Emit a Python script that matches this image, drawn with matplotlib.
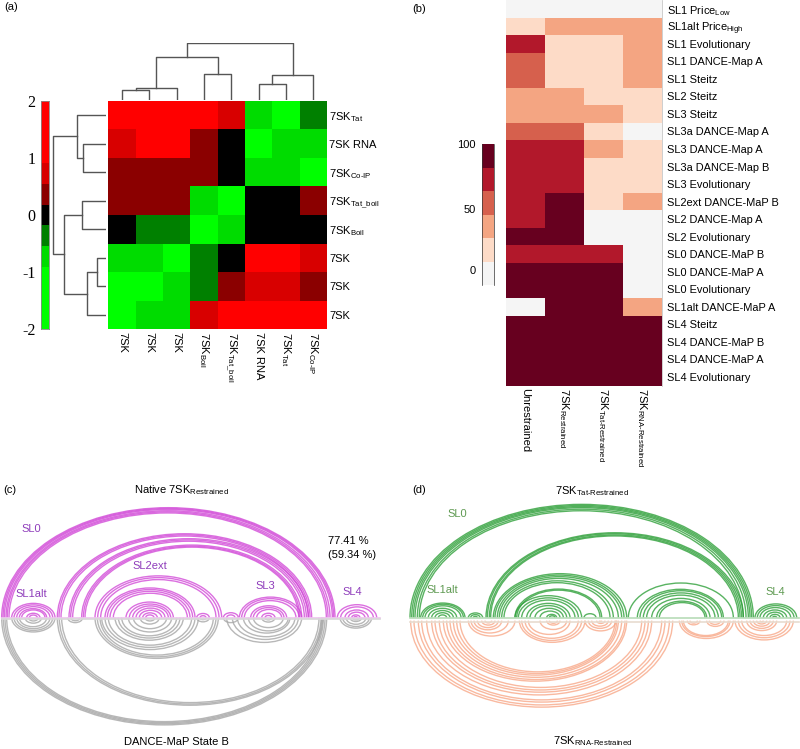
import matplotlib
matplotlib.use("Agg")
import numpy as np
import matplotlib.pyplot as plt
from matplotlib.colors import ListedColormap, BoundaryNorm
from matplotlib.patches import Arc

W, H = 800, 749
plt.rcParams['font.family'] = ['Liberation Sans', 'DejaVu Sans']
plt.rcParams['mathtext.fontset'] = 'custom'
plt.rcParams['mathtext.rm'] = 'Liberation Sans'
plt.rcParams['mathtext.default'] = 'rm'

# (a) heatmap
a_rows = ['7SK$_{Tat}$', '7SK RNA', '7SK$_{\\text{Co-IP}}$', '7SK$_{Tat\\_boil}$',
          '7SK$_{Boil}$', '7SK', '7SK', '7SK']
a_cols = ['7SK', '7SK', '7SK', '7SK$_{Boil}$', '7SK$_{Tat\\_boil}$', '7SK RNA',
          '7SK$_{Tat}$', '7SK$_{\\text{Co-IP}}$']
a_vals = [[1.6, 1.6, 1.6, 1.6, 0.9, -0.9, -1.6, -0.5],
          [0.9, 1.6, 1.6, 0.5, 0.0, -1.6, -0.9, -0.9],
          [0.5, 0.5, 0.5, 0.5, 0.0, -0.9, -0.9, -1.6],
          [0.5, 0.5, 0.5, -0.9, -1.6, 0.0, 0.0, 0.5],
          [0.0, -0.5, -0.5, -1.6, -0.9, 0.0, 0.0, 0.0],
          [-0.9, -0.9, -1.6, -0.5, 0.0, 1.6, 1.6, 0.9],
          [-1.6, -1.6, -0.9, -0.5, 0.5, 0.9, 0.9, 0.5],
          [-1.6, -0.9, -0.9, 0.9, 1.6, 1.6, 1.6, 1.6]]
a_colors = ['#00ff00', '#00ff00', '#00ff00', '#00dc00', '#008000', '#000000',
            '#8b0000', '#d80000', '#ff0000', '#ff0000', '#ff0000']
a_ticks = [2, 1, 0, -1, -2]
# merges: (pos1, pos2, height)
a_top_tree = [(0.5, 1.5, 30), (1.0, 2.5, 36), (3.5, 4.5, 78), (1.75, 4.0, 128),
              (5.5, 6.5, 47), (6.0, 7.5, 76), (2.875, 6.75, 170)]
a_side_tree = [(1.5, 2.5, 69), (0.5, 2.0, 86), (3.5, 4.5, 71), (5.5, 6.5, 28),
               (6.0, 7.5, 58), (4.0, 6.75, 126), (1.25, 5.375, 160)]

# (b) heatmap
b_rows = ['SL1 Price$_{Low}$', 'SL1alt Price$_{High}$', 'SL1 Evolutionary', 'SL1 DANCE-Map A',
          'SL1 Steitz', 'SL2 Steitz', 'SL3 Steitz', 'SL3a DANCE-Map A', 'SL3 DANCE-Map A',
          'SL3a DANCE-Map B', 'SL3 Evolutionary', 'SL2ext DANCE-MaP B', 'SL2 DANCE-Map A',
          'SL2 Evolutionary', 'SL0 DANCE-MaP B', 'SL0 DANCE-MaP A', 'SL0 Evolutionary',
          'SL1alt DANCE-MaP A', 'SL4 Steitz', 'SL4 DANCE-MaP B', 'SL4 DANCE-MaP A',
          'SL4 Evolutionary']
b_cols = ['Unrestrained', '7SK$_{Restrained}$', '7SK$_{\\text{Tat-Restrained}}$',
          '7SK$_{\\text{RNA-Restrained}}$']
b_vals = [[0, 0, 0, 0], [20, 40, 40, 40], [80, 20, 20, 40], [60, 20, 20, 40], [60, 20, 20, 40],
          [40, 40, 20, 20], [40, 40, 40, 20], [60, 60, 20, 0], [80, 80, 40, 20], [80, 80, 20, 20],
          [80, 80, 20, 20], [80, 100, 20, 40], [80, 100, 0, 0], [100, 100, 0, 0],
          [80, 80, 80, 0], [100, 100, 100, 0], [100, 100, 100, 0], [0, 100, 100, 40],
          [100, 100, 100, 100], [100, 100, 100, 100], [100, 100, 100, 100], [100, 100, 100, 100]]
b_colors = ['#f5f5f5', '#fddbc7', '#f4a582', '#d6604d', '#b2182b', '#67001f']
b_tick_pos = [3, 55, 110]
b_tick_labels = ['0', '50', '100']

# (c) arc pairs (start, end)
c_top = [(5, 1005), (9, 1001), (13, 997), (18, 990), (22, 984), (27, 979),
         (172, 935), (177, 930), (183, 925), (207, 925), (212, 919), (218, 913),
         (245, 905), (250, 900), (255, 896),
         (285, 665), (293, 657), (302, 648), (315, 585), (322, 578), (330, 570), (340, 562),
         (378, 520), (388, 512), (398, 505), (408, 495), (418, 485), (428, 472), (437, 462),
         (590, 628), (600, 618), (670, 715), (680, 705),
         (718, 905), (725, 898), (733, 888), (752, 860), (760, 852), (770, 845), (785, 825), (795, 815),
         (35, 165), (42, 158), (50, 150), (58, 140), (65, 135), (80, 120), (88, 112),
         (1012, 1130), (1022, 1120), (1035, 1105), (1045, 1095), (1055, 1080), (1062, 1072)]
c_bottom = [(5, 980), (10, 975), (15, 970), (20, 965),
            (172, 968), (178, 963), (185, 957),
            (35, 165), (42, 158), (50, 150), (58, 140), (75, 125), (85, 115),
            (203, 248), (212, 240),
            (285, 655), (292, 648), (300, 640), (305, 595), (315, 585), (325, 575), (345, 550),
            (355, 540), (365, 530), (385, 515), (400, 500), (420, 478), (435, 465),
            (590, 628), (600, 618), (670, 715), (680, 905), (697, 895), (712, 885),
            (730, 870), (745, 865), (760, 850), (785, 825), (795, 815),
            (1020, 1115), (1028, 1108), (1038, 1098), (1050, 1085), (1058, 1078)]

# (d) arc pairs
d_top = [(30, 1060), (35, 1055), (40, 1050), (45, 1045), (52, 1038), (58, 1030),
         (258, 1030), (262, 1025), (268, 1020), (272, 1015),
         (62, 195), (68, 190), (75, 183), (85, 170), (95, 160), (105, 150), (115, 140),
         (205, 248), (212, 240), (220, 232),
         (280, 680), (285, 672), (292, 665), (298, 655), (305, 640), (312, 630),
         (345, 605), (350, 600), (345, 545), (355, 535), (365, 525), (380, 510), (390, 500),
         (405, 490), (420, 480), (440, 470), (448, 465), (552, 588),
         (685, 1000), (712, 970), (720, 965), (730, 955), (740, 945), (755, 930), (770, 920), (778, 915),
         (1065, 1190), (1072, 1182), (1080, 1172), (1090, 1160), (1100, 1150), (1110, 1140), (1118, 1130)]
d_bottom = [(32, 818), (42, 808), (55, 795), (65, 785), (80, 755), (95, 745), (105, 735), (118, 725),
            (130, 680), (140, 675), (150, 665), (160, 655), (170, 650), (180, 645),
            (205, 345), (213, 325), (222, 305), (232, 295), (245, 285), (255, 275),
            (358, 555), (365, 545), (375, 535), (385, 510), (420, 500), (440, 480), (448, 472),
            (555, 648), (565, 635), (575, 625), (590, 615), (598, 605),
            (838, 1000), (845, 990), (850, 985), (862, 900), (870, 892), (920, 972), (928, 962),
            (1005, 1180), (1015, 1170), (1025, 1160), (1040, 1130), (1050, 1120), (1060, 1110),
            (1070, 1100), (1080, 1090)]


def axes_px(fig, x0, y0, x1, y1):
    # pixel box measured from the top left of the image
    return fig.add_axes([x0 / W, 1 - y1 / H, (x1 - x0) / W, (y1 - y0) / H])


def txt(fig, x, y, s, **kw):
    kw.setdefault('fontsize', 8)
    kw.setdefault('va', 'center')
    return fig.text(x / W, 1 - y / H, s, **kw)


def draw_arcs(ax, pairs, color, sign, y0=0, lw=1.0, alpha=0.8):
    for i, j in pairs:
        hgt = 0.66 * (j - i)
        t1, t2 = (0, 180) if sign > 0 else (180, 360)
        ax.add_patch(Arc(((i + j) / 2, y0), j - i, hgt, theta1=t1, theta2=t2,
                         color=color, lw=lw, alpha=alpha))


def arc_panel(fig, x0, top, bottom, c_up, c_down, y_off, line_up, line_down, xmin, xmax):
    ax = axes_px(fig, x0, 470, x0 + 400, 749)
    ax.set_xlim(0, 1200)
    ax.set_ylim(443 - 837, 443)
    ax.axis('off')
    draw_arcs(ax, top, c_up, 1)
    draw_arcs(ax, bottom, c_down, -1, y_off)
    ax.plot([xmin, xmax], [0, 0], color=line_up, lw=1.2)
    ax.plot([xmin, xmax], [y_off - 3, y_off - 3], color=line_down, lw=1.2)
    return ax


fig = plt.figure(figsize=(W / 100, H / 100), dpi=100)

# panel a
ax = axes_px(fig, 108.3, 100.7, 327, 329.3)
cmap_a = ListedColormap(a_colors)
norm_a = BoundaryNorm(np.linspace(-2, 2, 12), 11)
ax.pcolormesh(np.array(a_vals), cmap=cmap_a, norm=norm_a)
ax.invert_yaxis()
ax.set_xticks(np.arange(8) + 0.5, a_cols, rotation=270, fontsize=8)
ax.yaxis.tick_right()
ax.set_yticks(np.arange(8) + 0.5, a_rows, fontsize=8)
ax.tick_params(axis='y', length=0, pad=1.5)
ax.tick_params(axis='x', length=0, pad=2)
for s in ax.spines.values():
    s.set_visible(False)

top = axes_px(fig, 108.3, 43.3, 327, 100)
top.set_xlim(0, 8)
top.set_ylim(0, 170)
top.axis('off')
seen = {}
for p, q, h in a_top_tree:
    top.plot([p, p, q, q], [seen.get(p, 0), h, h, seen.get(q, 0)], color='#555555', lw=1)
    seen[(p + q) / 2] = h

side = axes_px(fig, 52.3, 100.7, 106, 329.3)
side.set_xlim(161, 0)
side.set_ylim(8, 0)
side.axis('off')
seen = {}
for p, q, h in a_side_tree:
    side.plot([seen.get(p, 0), h, h, seen.get(q, 0)], [p, p, q, q], color='#555555', lw=1)
    seen[(p + q) / 2] = h

cb = axes_px(fig, 41, 101, 49, 329)
levels = np.linspace(-2, 2, 12)
cb.pcolormesh([0, 1], levels, ((levels[:-1] + levels[1:]) / 2)[:, None], cmap=cmap_a, norm=norm_a)
cb.set_xticks([])
cb.set_yticks(a_ticks)
cb.set_yticklabels(a_ticks, family='Liberation Serif', fontsize=11.5)
cb.tick_params(length=0, pad=4)
for s in cb.spines.values():
    s.set_color('#888888')
    s.set_linewidth(0.6)

# panel b
ax = axes_px(fig, 505.7, 0, 661.7, 385.7)
cmap_b = ListedColormap(b_colors)
bins_b = np.arange(-10, 111, 20)
norm_b = BoundaryNorm(bins_b, 6)
ax.pcolormesh(np.array(b_vals), cmap=cmap_b, norm=norm_b)
ax.invert_yaxis()
ax.set_xticks(np.arange(4) + 0.5, b_cols, rotation=270, fontsize=8)
ax.yaxis.tick_right()
ax.set_yticks(np.arange(22) + 0.5, b_rows, fontsize=7.9)
ax.tick_params(axis='y', length=0, pad=4)
ax.tick_params(axis='x', length=0, pad=2)
for name, s in ax.spines.items():
    s.set_visible(name == 'right')
    s.set_color('#bbbbbb')
    s.set_linewidth(0.5)

cb = axes_px(fig, 482.3, 144, 493.7, 285)
cb.pcolormesh([0, 1], bins_b, ((bins_b[:-1] + bins_b[1:]) / 2)[:, None], cmap=cmap_b, norm=norm_b)
cb.set_xticks([])
cb.set_yticks(b_tick_pos, b_tick_labels, fontsize=8)
cb.tick_params(length=0, pad=5)
for name, s in cb.spines.items():
    s.set_visible(name in ('left', 'right'))
    s.set_color('#333333')
    s.set_linewidth(0.5)

# panels c and d
arc_panel(fig, 0, c_top, c_bottom, '#d24bd8', '#a6a6a6', 0, '#eec4ee', '#d8d8d8', 5, 1140)
arc_panel(fig, 400, d_top, d_bottom, '#2fa03a', '#f8a888', -9, '#b8dcb8', '#e8dcd0', 30, 1198)

# text
for x, y, s in [(4, 7, '(a)'), (412, 9, '(b)'), (3, 490, '(c)'), (412, 490, '(d)')]:
    txt(fig, x, y, s, fontsize=8)
txt(fig, 134, 490, 'Native 7SK$_{Restrained}$', fontsize=8)
txt(fig, 124, 742, 'DANCE-MaP State B', fontsize=8)
txt(fig, 555, 491, '7SK$_{\\text{Tat-Restrained}}$', fontsize=8)
txt(fig, 553, 741, '7SK$_{\\text{RNA-Restrained}}$', fontsize=8)
txt(fig, 328, 541, '77.41 %', fontsize=8)
txt(fig, 328, 555, '(59.34 %)', fontsize=8)
for x, y, s in [(21, 529, 'SL0'), (15, 594, 'SL1alt'), (132, 566, 'SL2ext'),
                (255, 586, 'SL3'), (342, 592, 'SL4')]:
    txt(fig, x, y, s, color='#8f3dbb', fontsize=8)
for x, y, s in [(447, 514, 'SL0'), (426, 590, 'SL1alt'), (765, 592, 'SL4')]:
    txt(fig, x, y, s, color='#5f9a52', fontsize=8)

fig.savefig('out.png', dpi=100)
